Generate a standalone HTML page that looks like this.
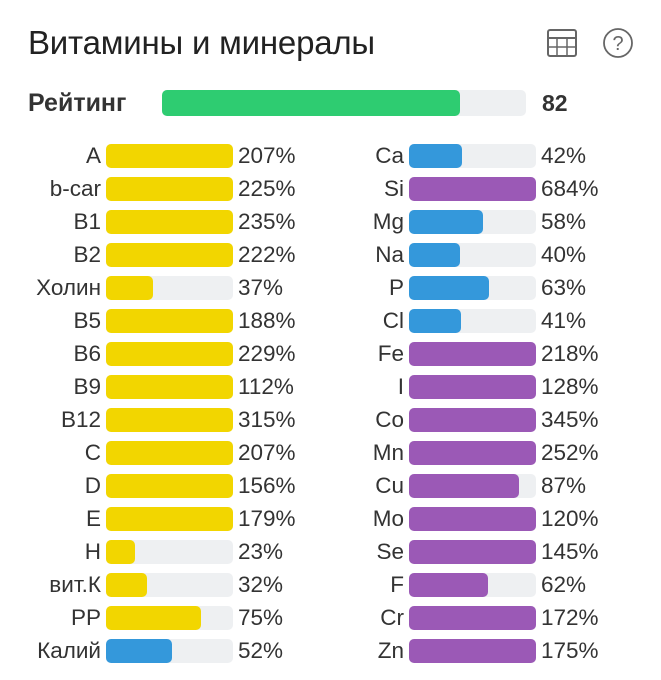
<!DOCTYPE html>
<html><head><meta charset="utf-8">
<style>
body{margin:0;width:661px;height:680px;background:#fff;font-family:"Liberation Sans","DejaVu Sans",sans-serif;color:#333;overflow:hidden;position:relative}
.abs{position:absolute}
.title{left:28px;top:24px;font-size:33px;color:#222;white-space:nowrap;letter-spacing:-0.2px}
.lbl{font-size:22.5px;color:#333;text-align:right;white-space:nowrap;line-height:24px}
.val{font-size:22.5px;color:#333;white-space:nowrap;line-height:24px}
.track{background:#eef0f2;border-radius:5px;height:24px}
.fill{position:absolute;left:0;top:0;height:24px;border-radius:5px}
</style></head><body>
<div class="abs title">Витамины и минералы</div>
<svg class="abs" style="left:546px;top:28px" width="32" height="30">
<rect x="2" y="2" width="28" height="26" rx="2" fill="none" stroke="#666" stroke-width="2"/>
<line x1="2" y1="10" x2="30" y2="10" stroke="#666" stroke-width="2"/>
<line x1="2" y1="19" x2="30" y2="19" stroke="#666" stroke-width="1.5"/>
<line x1="11" y1="10" x2="11" y2="28" stroke="#666" stroke-width="1.5"/>
<line x1="21" y1="10" x2="21" y2="28" stroke="#666" stroke-width="1.5"/>
</svg>
<svg class="abs" style="left:602px;top:27px" width="32" height="32">
<circle cx="16" cy="16" r="14" fill="none" stroke="#666" stroke-width="1.8"/>
<text x="16" y="23" text-anchor="middle" font-size="20" fill="#666" font-family="Liberation Sans">?</text>
</svg>
<div class="abs lbl" style="left:28px;top:90px;font-size:25px;font-weight:bold;text-align:left;line-height:26px">Рейтинг</div>
<div class="abs track" style="left:162px;top:90px;width:364px;height:26px">
<div class="fill" id="ratingFill" style="height:26px;background:#2ecc71"></div></div>
<div class="abs val" id="ratingVal" style="left:542px;top:90px;font-size:23px;font-weight:bold;line-height:26px"></div>
<div id="rows"></div>
<script>
const rating = 82;
const leftNames = ["A","b-car","B1","B2","Холин","B5","B6","B9","B12","C","D","E","H","вит.К","PP","Калий"];
const leftValues = [207,225,235,222,37,188,229,112,315,207,156,179,23,32,75,52];
const leftKinds = ["v","v","v","v","v","v","v","v","v","v","v","v","v","v","v","macro"];
const rightNames = ["Ca","Si","Mg","Na","P","Cl","Fe","I","Co","Mn","Cu","Mo","Se","F","Cr","Zn"];
const rightValues = [42,684,58,40,63,41,218,128,345,252,87,120,145,62,172,175];
const rightKinds = ["macro","micro","macro","macro","macro","macro","micro","micro","micro","micro","micro","micro","micro","micro","micro","micro"];
const colors = {v:"#f2d600",macro:"#3498db",micro:"#9b59b6"};
document.getElementById('ratingFill').style.width = (364*rating/100)+'px';
document.getElementById('ratingVal').textContent = rating;
const rows = document.getElementById('rows');
function col(names, vals, kinds, lblRight, barX, side){
  const barW = 127;
  names.forEach((n,i)=>{
    const y = 144 + i*33;
    const l = document.createElement('div');
    l.className='abs lbl';
    l.style.cssText='right:'+(661-lblRight)+'px;top:'+y+'px';
    l.textContent=n;
    
    
    rows.appendChild(l);
    const t = document.createElement('div');
    t.className='abs track';
    t.style.cssText='left:'+barX+'px;top:'+y+'px;width:'+barW+'px';
    
    
    const f = document.createElement('div');
    f.className='fill';
    f.style.width = (barW*Math.min(vals[i],100)/100)+'px';
    f.style.background = colors[kinds[i]];
    
    
    t.appendChild(f);
    rows.appendChild(t);
    const v = document.createElement('div');
    v.className='abs val';
    v.style.cssText='left:'+(barX+barW+5)+'px;top:'+y+'px';
    v.textContent=vals[i]+'%';
    
    
    rows.appendChild(v);
  });
}
col(leftNames,leftValues,leftKinds,101,106,'vitamin');
col(rightNames,rightValues,rightKinds,404,409,'mineral');
</script>
</body></html>
